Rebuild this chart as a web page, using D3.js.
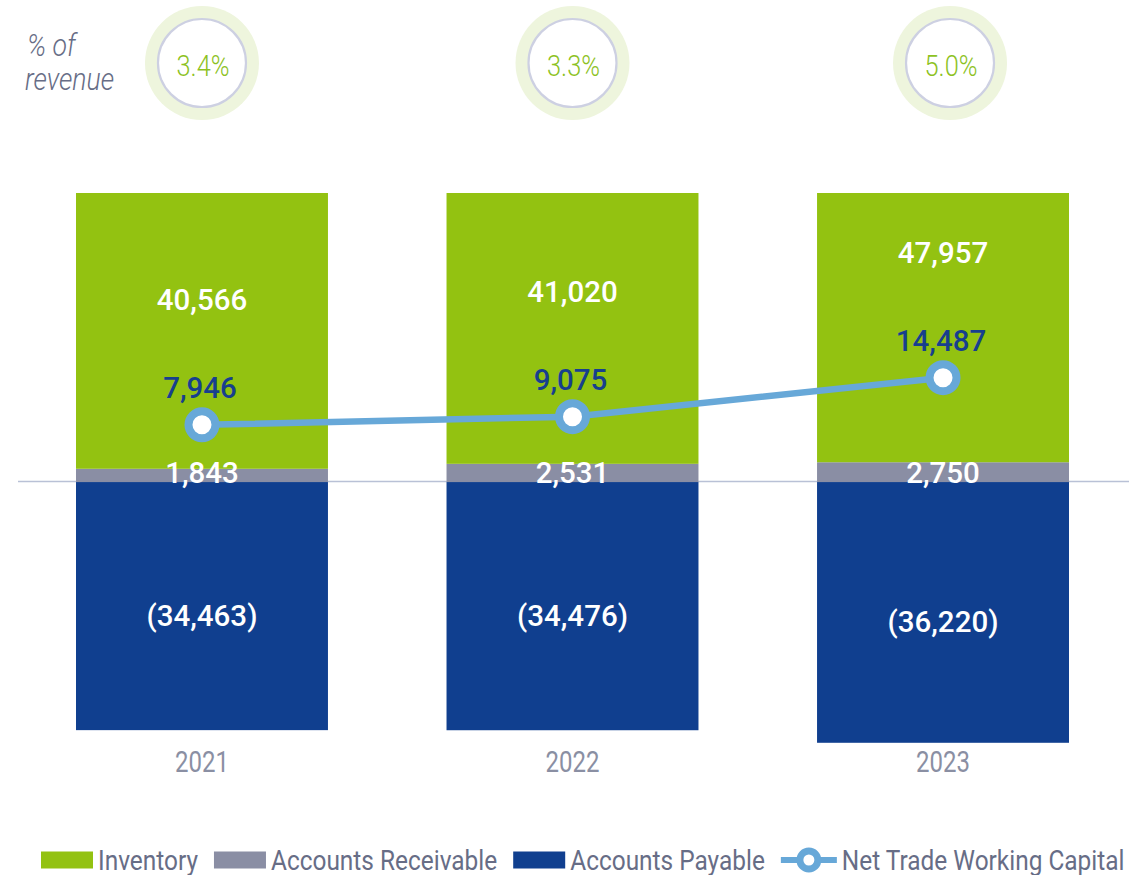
<!DOCTYPE html>
<html>
<head>
<meta charset="utf-8">
<script src="https://cdn.jsdelivr.net/npm/d3@7"></script>
<style>
  html, body { margin: 0; padding: 0; background: #ffffff; }
  svg { display: block; }
</style>
</head>
<body>
<svg id="chart" width="1129" height="875"></svg>
<script>
// ---- data (thousands) ----
const years = ["2021", "2022", "2023"];
const inventory = [40566, 41020, 47957];
const receivables = [1843, 2531, 2750];
const payables = [-34463, -34476, -36220];
const netTradeWC = [7946, 9075, 14487];
const pctOfRevenue = ["3.4%", "3.3%", "5.0%"];
const legendLabels = ["Inventory", "Accounts Receivable", "Accounts Payable", "Net Trade Working Capital"];

// ---- colours ----
const C = {
  inventory: "#93c211",
  receivables: "#8a8ea4",
  payables: "#103f8f",
  line: "#67a8d8",
  lineLabel: "#173f8e",
  axisText: "#8a8fa3",
  legendText: "#676d86",
  zero: "#b9c1d6",
  ringFill: "#eef5dd",
  ringStroke: "#cdd0e2",
  pctText: "#8dc21f"
};

const fmt = d3.format(",");
const fmtNeg = v => "(" + fmt(Math.abs(v)) + ")";

const svg = d3.select("#chart");

// ---- scales ----
const plotTop = 193;
const x = d3.scaleBand().domain(years).range([76, 1069]).paddingInner(0.32).paddingOuter(0);
const y = d3.scaleLinear().domain([-37000, 40150]).range([748.4, plotTop]);
const cx = d => x(d) + x.bandwidth() / 2;

// clip bars at the top of the plot area
svg.append("clipPath").attr("id", "plotClip")
  .append("rect").attr("x", 0).attr("y", plotTop).attr("width", 1129).attr("height", 875 - plotTop);

// helper for horizontally condensed text
function condensedText(parent, tx, ty, sx, str, attrs) {
  const g = parent.append("g").attr("transform", `translate(${tx},${ty}) scale(${sx},1)`);
  const t = g.append("text").attr("x", 0).attr("y", 0).text(str);
  Object.entries(attrs).forEach(([k, v]) => t.style(k, v));
  return t;
}

// ---- zero line (behind bars) ----
svg.append("line")
  .attr("x1", 18).attr("x2", 1129)
  .attr("y1", y(0) - 0.5).attr("y2", y(0) - 0.5)
  .attr("stroke", C.zero).attr("stroke-width", 1.6);

// ---- stacked bars ----
const bars = svg.append("g").attr("clip-path", "url(#plotClip)");
const rows = years.map((yr, i) => ({
  year: yr, inv: inventory[i], ar: receivables[i], ap: payables[i], nwc: netTradeWC[i]
}));

// accounts payable (negative)
bars.selectAll("rect.ap").data(rows).join("rect").attr("class", "ap")
  .attr("x", d => x(d.year)).attr("width", x.bandwidth())
  .attr("y", y(0)).attr("height", d => y(d.ap) - y(0))
  .attr("fill", C.payables);

// accounts receivable
bars.selectAll("rect.ar").data(rows).join("rect").attr("class", "ar")
  .attr("x", d => x(d.year)).attr("width", x.bandwidth())
  .attr("y", d => y(d.ar)).attr("height", d => y(0) - y(d.ar))
  .attr("fill", C.receivables);

// inventory, stacked on receivables
bars.selectAll("rect.inv").data(rows).join("rect").attr("class", "inv")
  .attr("x", d => x(d.year)).attr("width", x.bandwidth())
  .attr("y", d => y(d.ar + d.inv)).attr("height", d => y(d.ar) - y(d.ar + d.inv))
  .attr("fill", C.inventory);

// ---- value labels ----
const valueFont = { "font-family": "Roboto, 'Noto Sans', sans-serif", "font-size": "29.5px", "font-weight": "500", "text-anchor": "middle" };
const labels = svg.append("g");
rows.forEach(d => {
  const t1 = labels.append("text").attr("x", cx(d.year)).attr("y", y(d.nwc) - 115).text(fmt(d.inv));
  const t2 = labels.append("text").attr("x", cx(d.year)).attr("y", y(0) + 0.5).text(fmt(d.ar));
  const t3 = labels.append("text").attr("x", cx(d.year)).attr("y", (y(0) + y(d.ap)) / 2 + 20).text(fmtNeg(d.ap));
  [t1, t2, t3].forEach(t => { Object.entries(valueFont).forEach(([k, v]) => t.style(k, v)); t.attr("fill", "#ffffff"); });
});

// ---- net trade working capital line ----
const line = d3.line().x(d => cx(d.year)).y(d => y(d.nwc));
svg.append("path").datum(rows)
  .attr("d", line).attr("fill", "none")
  .attr("stroke", C.line).attr("stroke-width", 6.5).attr("stroke-linejoin", "round");
svg.selectAll("circle.pt").data(rows).join("circle").attr("class", "pt")
  .attr("cx", d => cx(d.year)).attr("cy", d => y(d.nwc)).attr("r", 13.5)
  .attr("fill", "#ffffff").attr("stroke", C.line).attr("stroke-width", 8);
rows.forEach(d => {
  const t = labels.append("text").attr("x", cx(d.year) - 2).attr("y", y(d.nwc) - 27).text(fmt(d.nwc));
  Object.entries(valueFont).forEach(([k, v]) => t.style(k, v));
  t.attr("fill", C.lineLabel);
});

// ---- year labels ----
years.forEach(yr => {
  condensedText(svg, cx(yr), 771.5, 0.8, yr, {
    "font-family": "Roboto, sans-serif", "font-size": "30px", "font-weight": "400",
    "text-anchor": "middle", "fill": C.axisText
  });
});

// ---- % of revenue badges ----
const badgeY = 63;
years.forEach((yr, i) => {
  const bx = cx(yr) + (i === 2 ? 7 : 0);
  svg.append("circle").attr("cx", bx).attr("cy", badgeY).attr("r", 57).attr("fill", C.ringFill);
  svg.append("circle").attr("cx", bx).attr("cy", badgeY).attr("r", 44)
    .attr("fill", "#ffffff").attr("stroke", C.ringStroke).attr("stroke-width", 2.2);
  condensedText(svg, bx + 1, 76, 0.86, pctOfRevenue[i], {
    "font-family": "Roboto, sans-serif", "font-size": "29.5px", "font-weight": "300",
    "text-anchor": "middle", "fill": C.pctText
  });
});
const pctStyle = {
  "font-family": "Roboto, sans-serif", "font-size": "31px", "font-weight": "300",
  "font-style": "italic", "text-anchor": "start", "fill": C.legendText
};
condensedText(svg, 27, 56, 0.86, "% of", pctStyle);
condensedText(svg, 25, 90, 0.86, "revenue", pctStyle);

// ---- legend ----
const legend = svg.append("g");
const legendSx = 0.905;
const legendStyle = {
  "font-family": "Roboto, sans-serif", "font-size": "27px", "font-weight": "400",
  "text-anchor": "start", "fill": C.legendText
};
const swatchColors = [C.inventory, C.receivables, C.payables];
let lx = 41;
const ly = 860;
legendLabels.forEach((lab, i) => {
  if (i < 3) {
    legend.append("rect").attr("x", lx).attr("y", ly - 8.5).attr("width", 52).attr("height", 17)
      .attr("fill", swatchColors[i]);
  } else {
    legend.append("line").attr("x1", lx).attr("x2", lx + 56).attr("y1", ly).attr("y2", ly)
      .attr("stroke", C.line).attr("stroke-width", 6);
    legend.append("circle").attr("cx", lx + 28).attr("cy", ly).attr("r", 9)
      .attr("fill", "#ffffff").attr("stroke", C.line).attr("stroke-width", 7);
  }
  const sw = i < 3 ? 52 : 56;
  const t = condensedText(legend, lx + sw + 5, ly + 9.5, legendSx, lab, legendStyle);
  const w = t.node().getComputedTextLength() * legendSx;
  lx = lx + sw + 5 + w + 16;
});
</script>
</body>
</html>
